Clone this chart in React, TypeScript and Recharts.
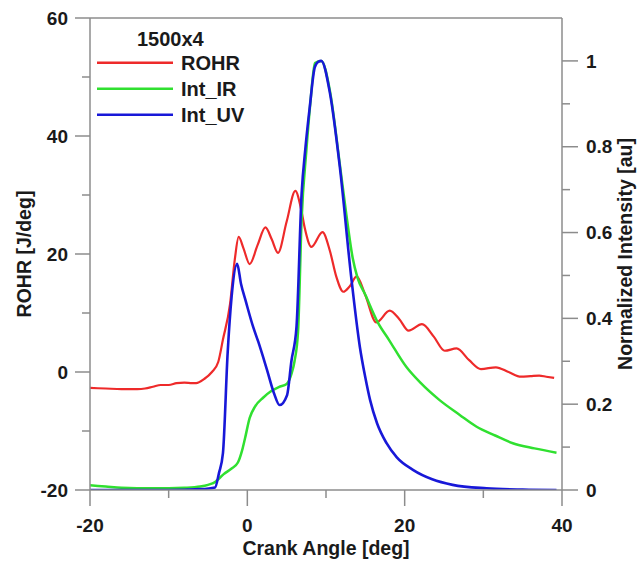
import { LineChart, Line, XAxis, YAxis, ReferenceLine, Legend } from 'recharts'

// crank angle [deg] vs ROHR [J/deg]
const rohrData = [
  { a: -20, v: -2.7 }, { a: -18, v: -2.8 }, { a: -16, v: -2.9 }, { a: -14, v: -2.9 },
  { a: -13, v: -2.8 }, { a: -12, v: -2.5 }, { a: -11, v: -2.2 }, { a: -10, v: -2.2 },
  { a: -9, v: -1.9 }, { a: -8, v: -1.8 }, { a: -7, v: -1.9 }, { a: -6.5, v: -1.9 },
  { a: -5.5, v: -1.2 }, { a: -4.5, v: 0 }, { a: -3.7, v: 1.7 }, { a: -3.1, v: 5.5 },
  { a: -2.2, v: 11.5 }, { a: -1.6, v: 19 }, { a: -1.1, v: 22.9 }, { a: -0.5, v: 21 },
  { a: 0.3, v: 18.3 }, { a: 1.3, v: 21.5 }, { a: 2.3, v: 24.5 }, { a: 3.1, v: 22.5 },
  { a: 3.9, v: 20.2 }, { a: 5.0, v: 25.5 }, { a: 6.1, v: 30.7 }, { a: 6.85, v: 27.5 },
  { a: 7.3, v: 24.4 }, { a: 8.15, v: 21.2 }, { a: 9.55, v: 23.7 }, { a: 10.5, v: 20.5 },
  { a: 11.3, v: 16.2 }, { a: 12.2, v: 13.6 }, { a: 13.0, v: 14.5 }, { a: 13.9, v: 16.2 },
  { a: 15.0, v: 13 }, { a: 16.4, v: 8.4 }, { a: 18.1, v: 10.4 }, { a: 19.3, v: 9 },
  { a: 20.5, v: 7.0 }, { a: 22.2, v: 8.1 }, { a: 23.7, v: 6 }, { a: 25.1, v: 3.6 },
  { a: 26.6, v: 4.0 }, { a: 28.2, v: 2 }, { a: 29.7, v: 0.5 }, { a: 31.6, v: 0.8 },
  { a: 33.2, v: 0 }, { a: 34.8, v: -0.8 }, { a: 36, v: -0.7 }, { a: 37.1, v: -0.6 },
  { a: 38, v: -0.8 }, { a: 39, v: -1.0 },
]

// normalized IR intensity
const irData = [
  { a: -20, v: 0.011 }, { a: -18, v: 0.008 }, { a: -16, v: 0.005 }, { a: -14, v: 0.004 },
  { a: -10, v: 0.004 }, { a: -8, v: 0.005 }, { a: -6, v: 0.008 }, { a: -5, v: 0.012 },
  { a: -4, v: 0.02 }, { a: -3.7, v: 0.025 }, { a: -3, v: 0.037 }, { a: -2, v: 0.05 },
  { a: -1.2, v: 0.064 }, { a: -0.7, v: 0.09 }, { a: -0.3, v: 0.12 }, { a: 0.3, v: 0.168 },
  { a: 1.0, v: 0.195 }, { a: 2.0, v: 0.215 }, { a: 3.0, v: 0.23 }, { a: 4.0, v: 0.24 },
  { a: 5.0, v: 0.247 }, { a: 5.6, v: 0.27 }, { a: 6.0, v: 0.3 }, { a: 6.45, v: 0.37 },
  { a: 6.9, v: 0.63 }, { a: 7.5, v: 0.79 }, { a: 8.0, v: 0.9 }, { a: 8.6, v: 0.995 },
  { a: 9.4, v: 1.0 }, { a: 10.5, v: 0.93 }, { a: 11.75, v: 0.76 }, { a: 12.6, v: 0.64 },
  { a: 13.4, v: 0.54 }, { a: 14.0, v: 0.495 }, { a: 15.0, v: 0.455 }, { a: 16.6, v: 0.39 },
  { a: 18.0, v: 0.35 }, { a: 20.2, v: 0.287 }, { a: 22, v: 0.25 }, { a: 24.4, v: 0.21 },
  { a: 27, v: 0.175 }, { a: 29.1, v: 0.148 }, { a: 31.5, v: 0.127 }, { a: 33.75, v: 0.109 },
  { a: 36.5, v: 0.097 }, { a: 39.3, v: 0.087 },
]

// normalized UV intensity
const uvData = [
  { a: -20, v: 0 }, { a: -10, v: 0 }, { a: -6, v: 0.002 }, { a: -4.1, v: 0.006 },
  { a: -3.6, v: 0.04 }, { a: -3.1, v: 0.086 }, { a: -2.5, v: 0.32 }, { a: -2.0, v: 0.45 },
  { a: -1.3, v: 0.527 }, { a: -0.8, v: 0.48 }, { a: -0.2, v: 0.44 }, { a: 0.74, v: 0.38 },
  { a: 1.4, v: 0.345 }, { a: 2.5, v: 0.28 }, { a: 3.4, v: 0.225 }, { a: 4.1, v: 0.198 },
  { a: 5.05, v: 0.221 }, { a: 5.6, v: 0.3 }, { a: 6.25, v: 0.38 }, { a: 6.9, v: 0.69 },
  { a: 7.4, v: 0.8 }, { a: 7.94, v: 0.893 }, { a: 8.57, v: 0.985 }, { a: 9.0, v: 0.998 },
  { a: 9.4, v: 1.0 }, { a: 10.5, v: 0.925 }, { a: 11.75, v: 0.754 }, { a: 13.2, v: 0.497 },
  { a: 14.3, v: 0.334 }, { a: 15.0, v: 0.262 }, { a: 15.6, v: 0.21 }, { a: 16.5, v: 0.155 },
  { a: 17.7, v: 0.109 }, { a: 19.0, v: 0.076 }, { a: 21.05, v: 0.047 }, { a: 23.5, v: 0.025 },
  { a: 26.1, v: 0.012 }, { a: 30.4, v: 0.004 }, { a: 35, v: 0.001 }, { a: 39.3, v: 0 },
]

const xTicks = [-20, -10, 0, 10, 20, 30, 40]
const leftTicks = [-20, -10, 0, 10, 20, 30, 40, 50, 60]
const rightTicks = [0, 0.1, 0.2, 0.3, 0.4, 0.5, 0.6, 0.7, 0.8, 0.9, 1]
const legendTitle = '1500x4'

const series = [
  { name: 'ROHR', data: rohrData, axis: 'left', color: '#ee2a2a', width: 2.2 },
  { name: 'Int_IR', data: irData, axis: 'right', color: '#30e030', width: 2.5 },
  { name: 'Int_UV', data: uvData, axis: 'right', color: '#1818d8', width: 2.6 },
]

const FONT = '"Liberation Sans", Arial, Helvetica, sans-serif'
const AXIS = '#8c8c8c'
const TEXT = '#1a1a1a'

const tickText = { fontFamily: FONT, fontSize: 19, fontWeight: 'bold' as const, fill: TEXT }
const titleStyle = { fontFamily: FONT, fontSize: 19.5, fontWeight: 'bold' as const, fill: TEXT, textAnchor: 'middle' as const }

const XTick = ({ x, y, payload }: any) => {
  const major = payload.value % 20 === 0
  return (
    <g>
      <line x1={x} x2={x} y1={y} y2={y + (major ? 16 : 8)} stroke={AXIS} strokeWidth={1.5} />
      {major && <text x={x} y={y + 42} textAnchor="middle" {...tickText}>{payload.value}</text>}
    </g>
  )
}

const LeftTick = ({ x, y, payload }: any) => {
  const major = payload.value % 20 === 0
  return (
    <g>
      <line x1={x - (major ? 15 : 8)} x2={x} y1={y} y2={y} stroke={AXIS} strokeWidth={1.5} />
      {major && <text x={x - 22} y={y} dy="0.35em" textAnchor="end" {...tickText}>{payload.value}</text>}
    </g>
  )
}

const RightTick = ({ x, y, payload }: any) => {
  const major = Math.round(payload.value * 10) % 2 === 0
  return (
    <g>
      <line x1={x} x2={x + (major ? 16 : 8)} y1={y} y2={y} stroke={AXIS} strokeWidth={1.5} />
      {major && <text x={x + 24} y={y} dy="0.35em" textAnchor="start" {...tickText}>{payload.value}</text>}
    </g>
  )
}

const LegendBox = () => (
  <svg width={200} height={104} style={{ display: 'block' }}>
    <text x={40} y={12.5} dy="0.35em" fontFamily={FONT} fontSize={20} fontWeight="bold" fill={TEXT}>{legendTitle}</text>
    {series.map((s, i) => (
      <g key={s.name}>
        <line x1={0} x2={76} y1={36.7 + i * 26} y2={36.7 + i * 26} stroke={s.color} strokeWidth={2.5} />
        <text x={84} y={36.7 + i * 26} dy="0.35em" fontFamily={FONT} fontSize={20} fontWeight="bold" fill={TEXT}>{s.name}</text>
      </g>
    ))}
  </svg>
)

export default function App() {
  return (
    <div style={{ width: 640, height: 561, background: '#fff' }}>
      <style>{'body { margin: 0; }'}</style>
      <LineChart width={640} height={561} margin={{ top: 18, right: 18, bottom: 5, left: 30 }}>
        <XAxis
          type="number"
          dataKey="a"
          domain={[-20, 40]}
          ticks={xTicks}
          interval={0}
          allowDataOverflow
          tickSize={0}
          tickMargin={0}
          tickLine={false}
          tick={<XTick />}
          axisLine={{ stroke: AXIS, strokeWidth: 1.5 }}
          height={66}
          label={{ value: 'Crank Angle [deg]', position: 'insideBottom', offset: 1, style: titleStyle }}
        />
        <YAxis
          yAxisId="left"
          domain={[-20, 60]}
          ticks={leftTicks}
          interval={0}
          allowDataOverflow
          tickSize={0}
          tickMargin={0}
          tickLine={false}
          tick={<LeftTick />}
          axisLine={{ stroke: AXIS, strokeWidth: 1.5 }}
          width={60}
          label={{ value: 'ROHR [J/deg]', angle: -90, position: 'insideLeft', offset: -6, style: titleStyle }}
        />
        <YAxis
          yAxisId="right"
          orientation="right"
          domain={[0, 1.1]}
          ticks={rightTicks}
          interval={0}
          allowDataOverflow
          tickSize={0}
          tickMargin={0}
          tickLine={false}
          tick={<RightTick />}
          axisLine={{ stroke: AXIS, strokeWidth: 1.5 }}
          width={60}
          label={{ value: 'Normalized Intensity [au]', angle: -90, position: 'insideRight', offset: -3, style: titleStyle }}
        />
        <ReferenceLine yAxisId="left" y={60} stroke={AXIS} strokeWidth={1.5} />
        <Legend
          layout="vertical"
          align="center"
          verticalAlign="middle"
          wrapperStyle={{ left: 97, top: 26, width: 200 }}
          content={<LegendBox />}
        />
        {series.map((s) => (
          <Line
            key={s.name}
            yAxisId={s.axis}
            data={s.data}
            dataKey="v"
            name={s.name}
            type="monotone"
            stroke={s.color}
            strokeWidth={s.width}
            dot={false}
            isAnimationActive={false}
          />
        ))}
      </LineChart>
    </div>
  )
}
